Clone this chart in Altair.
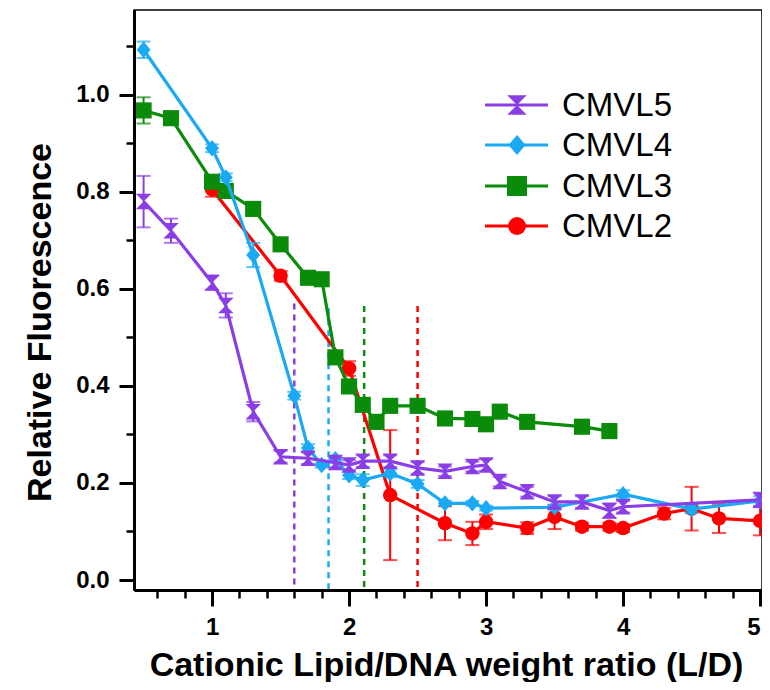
import altair as alt
import pandas as pd

# ---------------- data ----------------
cmvl5_x = [0.5, 0.7, 1.0, 1.1, 1.3, 1.5, 1.7, 1.9, 2.0, 2.1, 2.3, 2.5, 2.7, 2.9, 3.0, 3.1, 3.3, 3.5, 3.7, 3.9, 4.0, 5.0]
cmvl5_y = [0.780, 0.720, 0.613, 0.566, 0.347, 0.254, 0.251, 0.242, 0.237, 0.245, 0.245, 0.231, 0.224, 0.234, 0.237, 0.203, 0.182, 0.161, 0.161, 0.143, 0.151, 0.165]
cmvl5_e = [0.053, 0.025, 0.015, 0.025, 0.020, 0.012, 0.012, 0.010, 0.010, 0.012, 0.012, 0.012, 0.010, 0.010, 0.012, 0.010, 0.010, 0.012, 0.012, 0.015, 0.012, 0.015]

cmvl4_x = [0.5, 1.0, 1.1, 1.3, 1.6, 1.7, 1.8, 1.9, 2.0, 2.1, 2.3, 2.5, 2.7, 2.9, 3.0, 3.5, 4.0, 4.5, 5.0]
cmvl4_y = [1.093, 0.890, 0.830, 0.670, 0.380, 0.272, 0.237, 0.249, 0.216, 0.206, 0.220, 0.198, 0.158, 0.158, 0.148, 0.150, 0.177, 0.146, 0.163]
cmvl4_e = [0.017, 0.008, 0.008, 0.025, 0.008, 0.008, 0.005, 0.005, 0.008, 0.012, 0.008, 0.008, 0.005, 0.005, 0.005, 0.005, 0.008, 0.008, 0.010]

cmvl3_x = [0.5, 0.7, 1.0, 1.1, 1.3, 1.5, 1.7, 1.8, 1.9, 2.0, 2.1, 2.2, 2.3, 2.5, 2.7, 2.9, 3.0, 3.1, 3.3, 3.7, 3.9]
cmvl3_y = [0.968, 0.952, 0.821, 0.802, 0.765, 0.692, 0.623, 0.620, 0.459, 0.399, 0.361, 0.326, 0.359, 0.359, 0.333, 0.332, 0.321, 0.347, 0.326, 0.316, 0.307]
cmvl3_e = [0.027, 0.005, 0.005, 0.005, 0.005, 0.005, 0.005, 0.005, 0.005, 0.005, 0.005, 0.005, 0.005, 0.005, 0.005, 0.005, 0.005, 0.005, 0.005, 0.005, 0.005]

cmvl2_x = [1.0, 1.5, 2.0, 2.3, 2.7, 2.9, 3.0, 3.3, 3.5, 3.7, 3.9, 4.0, 4.3, 4.5, 4.7, 5.0]
cmvl2_y = [0.805, 0.627, 0.436, 0.175, 0.117, 0.096, 0.120, 0.107, 0.130, 0.110, 0.110, 0.107, 0.137, 0.147, 0.127, 0.122]
cmvl2_e = [0.015, 0.010, 0.015, 0.134, 0.035, 0.024, 0.015, 0.012, 0.025, 0.008, 0.008, 0.008, 0.012, 0.045, 0.030, 0.030]

series_names = ["CMVL5", "CMVL4", "CMVL3", "CMVL2"]
series_colors = ["#8B3EE6", "#1AA9F2", "#0A8C0A", "#FF0000"]

# threshold (dashed) lines
thr_x = [1.6, 1.85, 2.11, 2.5]
thr_top = [0.57, 0.56, 0.565, 0.565]

x_major = [1, 2, 3, 4, 5]
x_minor = [0.6, 0.8, 1.2, 1.4, 1.6, 1.8, 2.2, 2.4, 2.6, 2.8, 3.2, 3.4, 3.6, 3.8, 4.2, 4.4, 4.6, 4.8]
y_major = [0.0, 0.2, 0.4, 0.6, 0.8, 1.0]
y_minor = [0.1, 0.3, 0.5, 0.7, 0.9, 1.1]

X_DOMAIN = [0.43, 5.014]
Y_DOMAIN = [-0.0206, 1.175]

FONT = "Liberation Sans"

# ---------------- shapes ----------------
shape_paths = {
    "CMVL5": "M-1,-1L1,-1L-1,1L1,1Z",          # hourglass
    "CMVL4": "M0,-1L0.85,0L0,1L-0.85,0Z",      # diamond
    "CMVL3": "M-1,-1L1,-1L1,1L-1,1Z",          # square
    "CMVL2": "circle",
}
shape_sizes = {"CMVL5": 240, "CMVL4": 270, "CMVL3": 260, "CMVL2": 210}
legend_sizes = {"CMVL5": 380, "CMVL4": 400, "CMVL3": 400, "CMVL2": 320}

xs = alt.Scale(domain=X_DOMAIN, nice=False, zero=False)
ys = alt.Scale(domain=Y_DOMAIN, nice=False, zero=False)

x_axis_main = alt.Axis(
    values=x_major, format="d", orient="bottom", grid=False,
    domainColor="black", domainWidth=3, tickColor="black", tickWidth=3, tickSize=16,
    labelFont=FONT, labelFontSize=24, labelFontWeight="bold", labelColor="black", labelPadding=9,
    labelFlush=6,
    title="Cationic Lipid/DNA weight ratio (L/D)", titleFont=FONT, titleFontSize=34,
    titleFontWeight="bold", titleColor="black", titleX=312, titleY=75,
    titleAlign="center", titleBaseline="middle", zindex=2,
)
y_axis_main = alt.Axis(
    values=y_major, format=".1f", orient="left", grid=False,
    domainColor="black", domainWidth=3, tickColor="black", tickWidth=3, tickSize=15,
    labelFont=FONT, labelFontSize=24, labelFontWeight="bold", labelColor="black", labelPadding=10,
    title="Relative Fluorescence", titleFont=FONT, titleFontSize=34,
    titleFontWeight="bold", titleColor="black", titleX=-94, titleY=312, titleAngle=270,
    titleAlign="center", titleBaseline="middle", zindex=2,
)
x_axis_minor = alt.Axis(values=x_minor, orient="bottom", grid=False, labels=False, domain=False,
                        tickColor="black", tickWidth=2.5, tickSize=8, title=None, zindex=2)
y_axis_minor = alt.Axis(values=y_minor, orient="left", grid=False, labels=False, domain=False,
                        tickColor="black", tickWidth=2.5, tickSize=8, title=None, zindex=2)

# ---------------- threshold lines (carry the minor-tick axes) ----------------
thr_df = pd.DataFrame({"x": thr_x, "top": thr_top, "bottom": [Y_DOMAIN[0]] * 4, "series": series_names})
thr_layers = []
for name, col in zip(series_names, series_colors):
    thr_layers.append(
        alt.Chart(thr_df[thr_df.series == name]).mark_rule(color=col, strokeWidth=2.5, strokeDash=[6, 5]).encode(
            x=alt.X("x:Q", scale=xs, axis=x_axis_minor),
            y=alt.Y("top:Q", scale=ys, axis=y_axis_minor),
            y2="bottom:Q",
        )
    )
minor_layer = alt.layer(*thr_layers)

# ---------------- data series ----------------
series_data = {
    "CMVL5": (cmvl5_x, cmvl5_y, cmvl5_e),
    "CMVL4": (cmvl4_x, cmvl4_y, cmvl4_e),
    "CMVL3": (cmvl3_x, cmvl3_y, cmvl3_e),
    "CMVL2": (cmvl2_x, cmvl2_y, cmvl2_e),
}
color_of = dict(zip(series_names, series_colors))

X = alt.X("x:Q", scale=xs, axis=x_axis_main)
Y = alt.Y("y:Q", scale=ys, axis=y_axis_main)

main_layers = []
for name in ["CMVL2", "CMVL3", "CMVL4", "CMVL5"]:  # draw order
    xv, yv, ev = series_data[name]
    df = pd.DataFrame({"x": xv, "y": yv, "e": ev})
    df["lo"] = df["y"] - df["e"]
    df["hi"] = df["y"] + df["e"]
    col = color_of[name]
    base = alt.Chart(df)
    main_layers.append(base.mark_line(color=col, strokeWidth=3.2).encode(x=X, y=Y))
    main_layers.append(
        base.mark_errorbar(color=col, ticks=True, size=14, thickness=2).encode(
            x=X, y=alt.Y("lo:Q", scale=ys, axis=y_axis_main), y2="hi:Q"
        )
    )
    main_layers.append(
        base.mark_point(shape=shape_paths[name], filled=True, size=shape_sizes[name],
                        color=col, opacity=1, strokeWidth=0).encode(x=X, y=Y)
    )

# ---------------- legend (manual, inside plot) ----------------
leg_rows_y = [95, 135, 176, 216]
for name, ly in zip(series_names, leg_rows_y):
    col = color_of[name]
    one = alt.Chart(pd.DataFrame({"s": [name]}))
    main_layers.append(one.mark_rule(color=col, strokeWidth=3).encode(
        x=alt.value(351), x2=alt.value(414), y=alt.value(ly)))
    main_layers.append(one.mark_point(shape=shape_paths[name], filled=True, size=legend_sizes[name],
                                      color=col, opacity=1, strokeWidth=0).encode(
        x=alt.value(383), y=alt.value(ly)))
    main_layers.append(one.mark_text(font=FONT, fontSize=33, align="left", baseline="middle",
                                     color="black").encode(
        x=alt.value(428), y=alt.value(ly + 1), text="s:N"))

main_layer = alt.layer(*main_layers)

chart = alt.layer(minor_layer, main_layer).resolve_axis(x="independent", y="independent").properties(
    width=628, height=580,
    padding={"left": 126, "top": 2, "right": 0, "bottom": 92},
    autosize=alt.AutoSizeParams(type="none"),
    background="white",
).configure_view(stroke="black", strokeWidth=1.5)

chart.save("out.html", embed_options={"renderer": "svg", "actions": False})
